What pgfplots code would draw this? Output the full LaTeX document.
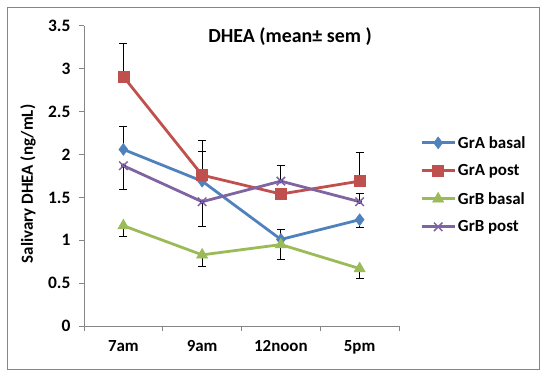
\documentclass[border=0pt]{standalone}
\usepackage{pgfplots}
\pgfplotsset{compat=1.18}
\usepackage{fontspec}
\setmainfont{Carlito}
\definecolor{cblue}{HTML}{4F81BD}
\definecolor{cred}{HTML}{C0504D}
\definecolor{cgreen}{HTML}{9BBB59}
\definecolor{cpurple}{HTML}{8064A2}
\definecolor{axgray}{HTML}{868686}
\pgfplotsset{
  errplus/.style={only marks, mark=none, forget plot,
    error bars/.cd, y dir=plus, y explicit,
    error bar style={black, line width=0.9pt},
    error mark options={rotate=90, mark size=4pt, black, line width=0.9pt}},
  errminus/.style={only marks, mark=none, forget plot,
    error bars/.cd, y dir=minus, y explicit,
    error bar style={black, line width=0.9pt},
    error mark options={rotate=90, mark size=4pt, black, line width=0.9pt}},
}
\begin{document}
\begin{tikzpicture}[x=1bp,y=1bp]
\path (0,0) rectangle (550,376);
\draw[axgray, line width=1pt] (7,7) rectangle (539,369);
\begin{axis}[
  at={(84bp,50bp)}, anchor=south west,
  scale only axis, width=315bp, height=300bp,
  xmin=0, xmax=4, ymin=0, ymax=3.5,
  axis lines*=left,
  axis line style={axgray, line width=1pt},
  tick align=outside,
  major tick length=5bp,
  tick style={axgray, line width=1pt},
  xtick={0,1,2,3,4}, xticklabels={},
  extra x ticks={0.5,1.5,2.5,3.5},
  extra x tick labels={7am,9am,12noon,5pm},
  extra x tick style={major tick length=0pt},
  ytick={0,0.5,...,3.5},
  /pgf/number format/assume math mode=true,
  yticklabel style={font=\fontsize{17.5}{20}\selectfont\bfseries, xshift=-5bp},
  xticklabel style={font=\fontsize{17}{20}\selectfont\bfseries, yshift=-11bp},
  legend style={at={(1.067,0.64)}, anchor=north west, draw=none, fill=none,
    font=\fontsize{17}{19}\selectfont\bfseries, row sep=11bp, inner sep=0pt,
    /tikz/every even column/.append style={column sep=1bp}},
  legend cell align=left,
  legend image code/.code={\draw[mark repeat=2,mark phase=2] plot coordinates {(0cm,0cm) (0.58cm,0cm) (1.16cm,0cm)};},
  clip=false,
]
% error bars
\addplot+[errplus] table[x=x,y=y,y error=e]{
x y e
0.5 2.06 0.27
1.5 1.69 0.35
2.5 1.01 0.12
};
\addplot+[errminus] table[x=x,y=y,y error=e]{
x y e
3.5 1.24 0.09
};
\addplot+[errplus] table[x=x,y=y,y error=e]{
x y e
0.5 2.91 0.39
1.5 1.76 0.41
3.5 1.69 0.34
};
\addplot+[errminus] table[x=x,y=y,y error=e]{
x y e
0.5 1.17 0.13
1.5 0.83 0.13
2.5 0.95 0.17
3.5 0.67 0.12
};
\addplot+[errminus] table[x=x,y=y,y error=e]{
x y e
0.5 1.87 0.28
1.5 1.45 0.29
};
\addplot+[errplus] table[x=x,y=y,y error=e]{
x y e
2.5 1.69 0.18
3.5 1.45 0.10
};
% series
\addplot[cblue, line width=2.8pt, mark=diamond*, mark size=6pt, mark options={solid, line width=0.5pt, fill=cblue}] coordinates {(0.5,2.06) (1.5,1.69) (2.5,1.01) (3.5,1.24)};
\addlegendentry{GrA basal}
\addplot[cred, line width=2.8pt, mark=square*, mark size=5.5pt, mark options={solid, line width=0.5pt, fill=cred}] coordinates {(0.5,2.91) (1.5,1.76) (2.5,1.54) (3.5,1.69)};
\addlegendentry{GrA post}
\addplot[cgreen, line width=2.8pt, mark=triangle*, mark size=6.5pt, mark options={solid, line width=0.5pt, fill=cgreen}] coordinates {(0.5,1.17) (1.5,0.83) (2.5,0.95) (3.5,0.67)};
\addlegendentry{GrB basal}
\addplot[cpurple, line width=2.8pt, mark=x, mark size=6pt, mark options={solid, line width=1.5pt}] coordinates {(0.5,1.87) (1.5,1.45) (2.5,1.69) (3.5,1.45)};
\addlegendentry{GrB post}
\end{axis}
\node[font=\fontsize{20}{24}\selectfont\bfseries] at (290,339) {DHEA (mean± sem )};
\node[font=\fontsize{17}{20}\selectfont\bfseries, rotate=90] at (28,192) {Salivary DHEA (ng/mL)};
\end{tikzpicture}
\end{document}
